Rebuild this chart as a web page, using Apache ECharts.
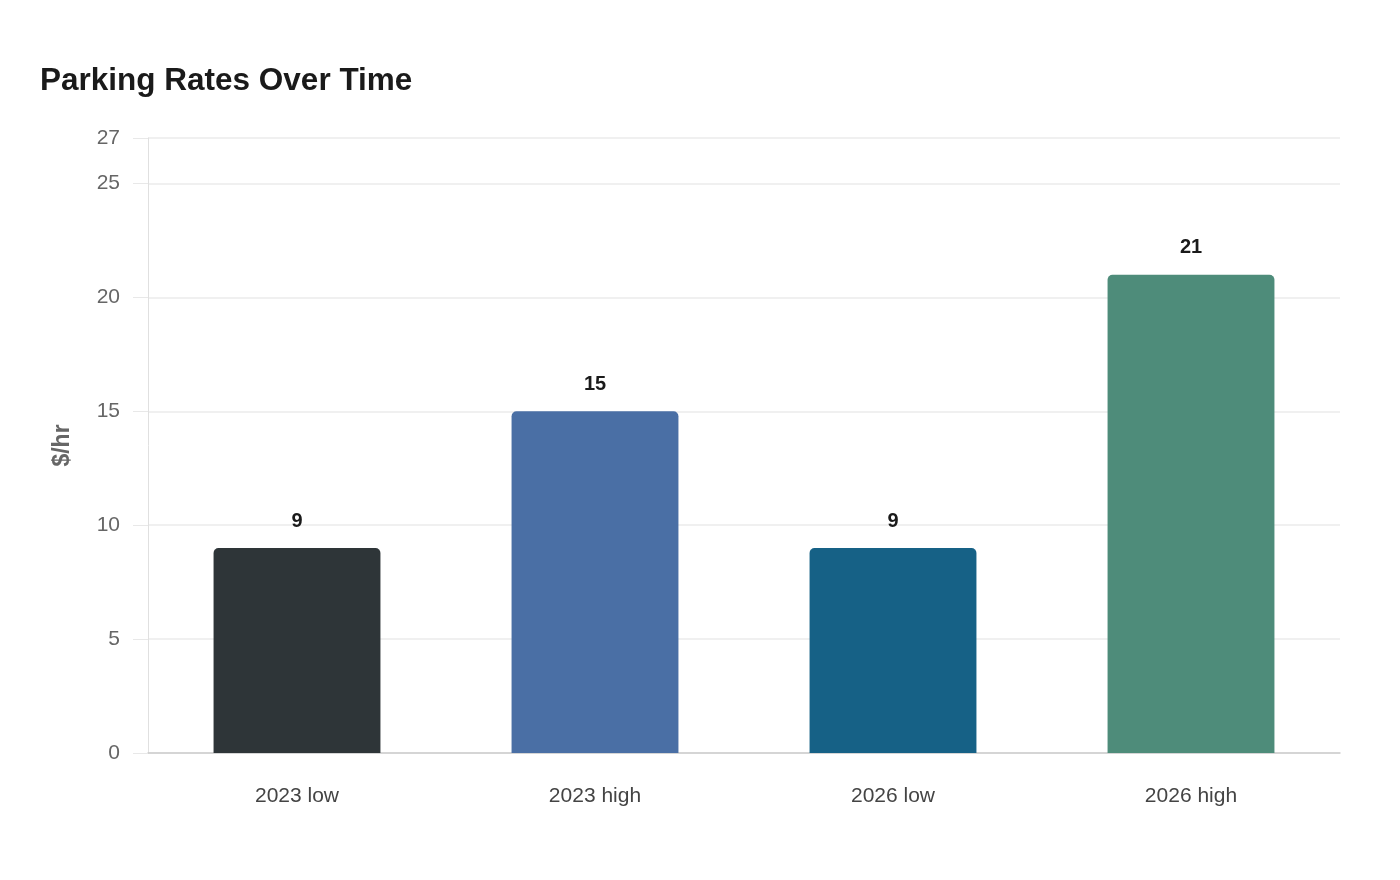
<!DOCTYPE html>
<html><head><meta charset="utf-8">
<script src="https://cdn.jsdelivr.net/npm/echarts@6/dist/echarts.min.js"></script>
<style>html,body{margin:0;padding:0;background:#fff}#c{width:1400px;height:880px}</style>
</head><body><div id="c"></div>
<script>
const categories = ['2023 low', '2023 high', '2026 low', '2026 high'];
const values = [9, 15, 9, 21];
const barColors = ['#2e3538', '#4a6fa5', '#166186', '#4e8c7a'];
const yTicks = { min: 0, max: 27, interval: 5 };

const chart = echarts.init(document.getElementById('c'));
chart.setOption({
  backgroundColor: '#fff',
  textStyle: { fontFamily: 'Liberation Sans, Arial, sans-serif' },
  title: {
    text: 'Parking Rates Over Time', left: 35, top: 60,
    textStyle: { fontSize: 31.5, fontWeight: 'bold', color: '#1a1a1a', fontFamily: 'Liberation Sans, Arial, sans-serif' }
  },
  grid: { left: 148, right: 60, top: 138, bottom: 127, containLabel: false },
  xAxis: {
    type: 'category', data: categories,
    axisLine: { lineStyle: { color: '#cccccc', width: 1.5 } },
    axisTick: { show: false },
    axisLabel: { fontSize: 21, color: '#444', margin: 33 }
  },
  yAxis: {
    type: 'value', min: yTicks.min, max: yTicks.max, interval: yTicks.interval,
    name: '$/hr', nameLocation: 'middle', nameGap: 74,
    nameTextStyle: { fontSize: 23, fontWeight: 'bold', color: '#666' },
    axisLine: { show: true, lineStyle: { color: '#e0e0e0' } },
    axisTick: { show: true, length: 15, lineStyle: { color: '#e8e8e8' } },
    axisLabel: { fontSize: 21, color: '#666', margin: 28, padding: [3, 0, 0, 0] },
    splitLine: { lineStyle: { color: '#ebebeb', width: 1.5 } }
  },
  series: [{
    type: 'bar', barWidth: '56%',
    data: values.map((v, i) => ({ value: v, itemStyle: { color: barColors[i], borderRadius: [5, 5, 0, 0] } })),
    label: { show: true, position: 'top', distance: 17, fontSize: 20, fontWeight: 'bold', color: '#1a1a1a' }
  }]
});
</script></body></html>
